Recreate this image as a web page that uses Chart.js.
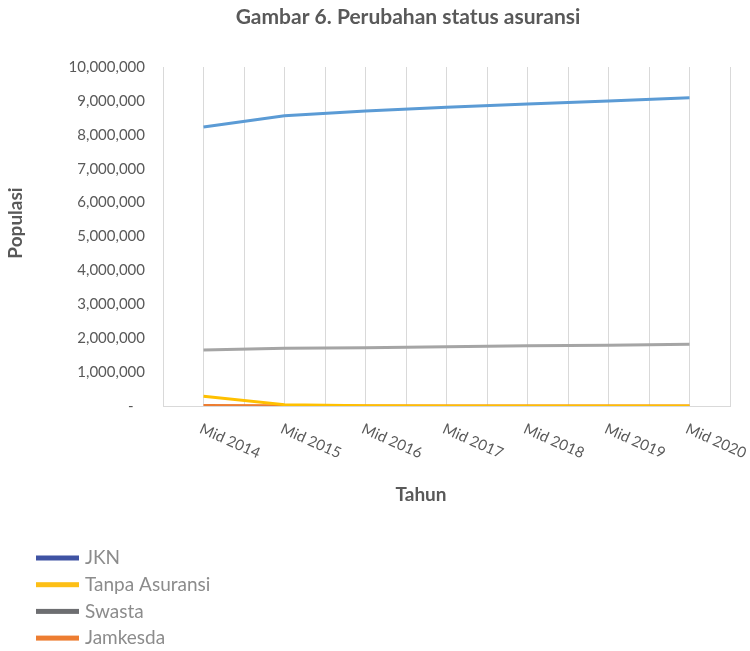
<!DOCTYPE html>
<html>
<head>
<meta charset="utf-8">
<title>Perubahan status asuransi</title>
<script src="https://cdn.jsdelivr.net/npm/chart.js@4.4.1/dist/chart.umd.min.js"></script>
<style>
  html, body { margin: 0; padding: 0; background: #fff; }
  #wadah { width: 750px; height: 651px; }
</style>
</head>
<body>
<div id="wadah"><canvas id="grafik"></canvas></div>
<script>
// Data (perkiraan)
var tahun = ['Mid 2014', 'Mid 2015', 'Mid 2016', 'Mid 2017', 'Mid 2018', 'Mid 2019', 'Mid 2020'];
var jkn = [8230000, 8560000, 8700000, 8810000, 8910000, 9000000, 9090000];
var tanpaAsuransi = [290000, 40000, 5000, 0, 0, 0, 0];
var swasta = [1650000, 1700000, 1720000, 1750000, 1780000, 1790000, 1820000];
var jamkesda = [15000, 5000, 0, 0, 0, 0, 0];

var namaSeri = ['JKN', 'Tanpa Asuransi', 'Swasta', 'Jamkesda'];
var warnaGaris = ['#5b9bd5', '#ffc000', '#a5a5a5', '#ed7d31'];
var warnaLegenda = ['#3f53a3', '#fdbf16', '#6d6e71', '#ed7d31'];

var judul = 'Gambar 6. Perubahan status asuransi';
var judulX = 'Tahun';
var judulY = 'Populasi';

Chart.defaults.font.family = 'Lato';
Chart.defaults.color = '#595959';

var nilaiSeri = [jkn, tanpaAsuransi, swasta, jamkesda];
var datasets = namaSeri.map(function (nama, i) {
    return {
        label: nama,
        data: nilaiSeri[i],
        borderColor: warnaGaris[i],
        backgroundColor: warnaGaris[i],
        borderWidth: 3,
        pointRadius: 0,
        fill: false,
        tension: 0
    };
});

// Teks yang tidak bisa diatur langsung oleh Chart.js (judul, label miring, legenda)
var teksTambahan = {
    id: 'teksTambahan',
    afterDraw: function (chart) {
        var ctx = chart.ctx;
        var sx = chart.scales.x;
        ctx.save();

        // judul
        ctx.fillStyle = '#595959';
        ctx.font = 'bold 21px Lato';
        ctx.textAlign = 'center';
        ctx.textBaseline = 'middle';
        ctx.fillText(judul, 408, 17);

        // judul sumbu y
        ctx.save();
        ctx.translate(16, 223);
        ctx.rotate(-Math.PI / 2);
        ctx.font = 'bold 19px Lato';
        ctx.fillText(judulY, 0, 0);
        ctx.restore();

        // label sumbu x, miring ke kanan bawah
        ctx.font = '15px Lato';
        ctx.textAlign = 'left';
        tahun.forEach(function (lab, i) {
            var px = sx.getPixelForTick(i);
            ctx.save();
            ctx.translate(px - 3, sx.top + 22);
            ctx.rotate(24 * Math.PI / 180);
            ctx.fillText(lab, 0, 0);
            ctx.restore();
        });

        // judul sumbu x
        ctx.font = 'bold 19px Lato';
        ctx.textAlign = 'center';
        ctx.fillText(judulX, 421, 495);

        // legenda vertikal
        ctx.font = '19px Lato';
        ctx.textAlign = 'left';
        namaSeri.forEach(function (nama, i) {
            var y = 558 + i * 26.7;
            ctx.fillStyle = warnaLegenda[i];
            ctx.fillRect(36, y - 2.5, 43, 5);
            ctx.fillStyle = '#8c8c8c';
            ctx.fillText(nama, 85, y);
        });
        ctx.restore();
    }
};

var grafik = new Chart(document.getElementById('grafik'), {
    type: 'line',
    data: {
        labels: tahun,
        datasets: datasets
    },
    options: {
        responsive: true,
        maintainAspectRatio: false,
        animation: false,
        layout: {
            padding: { top: 67, right: 20, bottom: 171, left: 0 }
        },
        plugins: {
            legend: { display: false },
            tooltip: { enabled: false },
            title: { display: false }
        },
        scales: {
            x: {
                type: 'category',
                offset: true,
                grid: { display: false },
                border: { display: true, color: '#d9d9d9', width: 1 },
                ticks: { display: false },
                afterFit: function (scale) { scale.height = 74; }
            },
            x2: {
                type: 'linear',
                position: 'bottom',
                min: -0.5,
                max: 6.5,
                ticks: { display: false, stepSize: 0.5 },
                grid: { color: '#d9d9d9', lineWidth: 1, drawTicks: false },
                border: { display: false }
            },
            y: {
                min: 0,
                max: 10000000,
                grid: { display: false, drawTicks: false },
                border: { display: false },
                ticks: {
                    stepSize: 1000000,
                    padding: 18,
                    font: { size: 15 },
                    color: '#595959',
                    callback: function (v) {
                        return v === 0 ? '-\u00a0\u00a0\u00a0' : v.toLocaleString('en-US');
                    }
                },
                afterFit: function (scale) { scale.width = 163; }
            }
        }
    },
    plugins: [teksTambahan]
});
</script>
</body>
</html>
